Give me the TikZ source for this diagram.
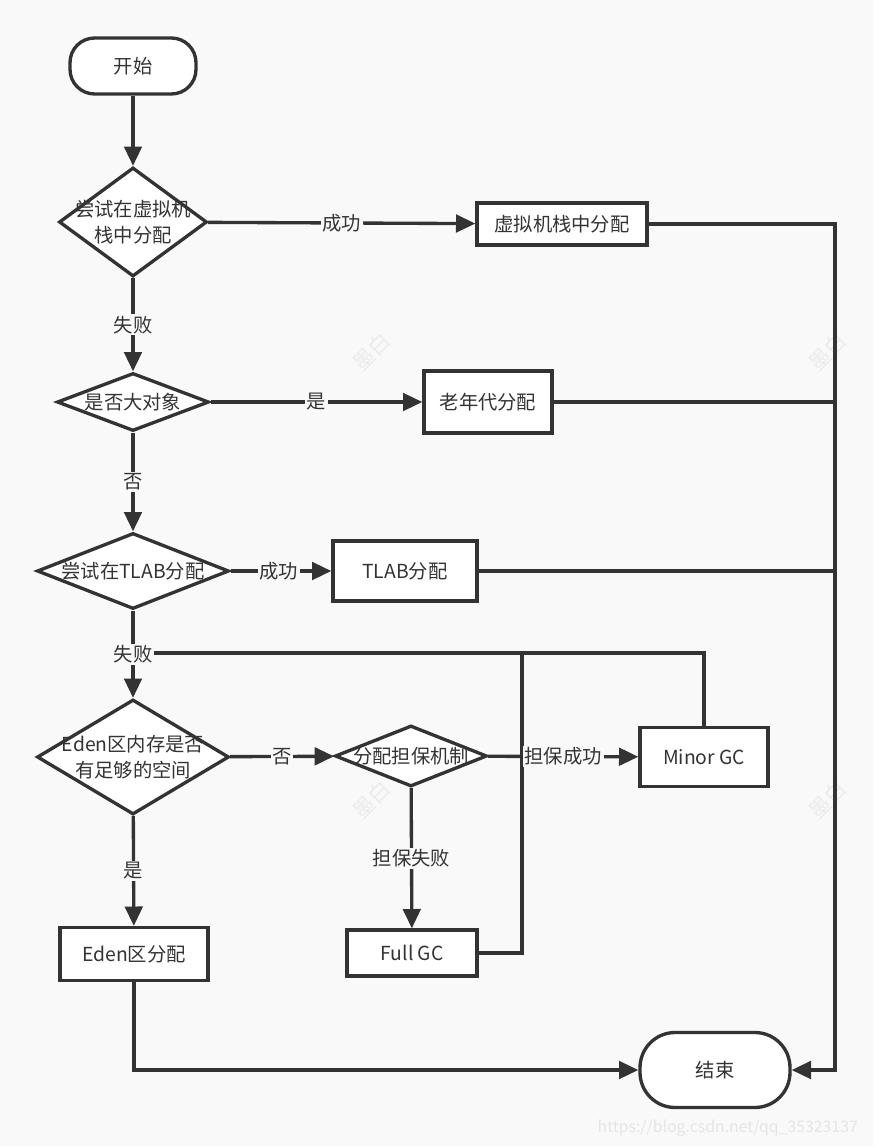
\documentclass[tikz,border=0pt]{standalone}
\usepackage{fontspec}
\setmainfont{Noto Sans CJK SC}
\usepackage{tikz}
\usetikzlibrary{shapes.geometric}
\usetikzlibrary{arrows.meta}
\definecolor{ink}{HTML}{333333}
\definecolor{paper}{HTML}{F9F9F9}
\tikzset{
  flow/.style={draw=ink,line width=1.9pt,fill=white,inner sep=0pt},
  term/.style={flow,rounded corners=14pt},
  proc/.style={flow,rectangle},
  cond/.style={flow,diamond},
  arr/.style={draw=ink,line width=1.9pt,-{Triangle[length=11pt,width=10pt]}},
  wire/.style={draw=ink,line width=1.9pt},
  lbl/.style={fill=paper,inner sep=1pt,text=ink},
  wm/.style={text=black!8,rotate=45,font=\fontsize{12}{12}\selectfont}
}
\begin{document}
\begin{tikzpicture}[x=0.02cm,y=-0.02cm,font=\fontsize{11}{15}\selectfont,text=ink]
  \fill[paper] (0,0) rectangle (873,1146);
  \useasboundingbox (0,0) rectangle (873,1146);
  % watermarks
  \node[wm] (wm1) at (372,352) {墨白};
  \node[wm] (wm2) at (828,352) {墨白};
  \node[wm] (wm3) at (372,800) {墨白};
  \node[wm] (wm4) at (828,800) {墨白};
  \node[text=black!10,anchor=east,font=\fontsize{9}{11}\selectfont] (url) at (864,1128) {https://blog.csdn.net/qq\_35323137};
  % nodes
  \node[term,minimum width=126*0.02cm,minimum height=56*0.02cm] (start) at (133,66) {开始};
  \node[cond,minimum width=148*0.02cm,minimum height=109*0.02cm,label={[align=center]center:尝试在虚拟机\\栈中分配}] (stack) at (133,222) {};
  \node[proc,minimum width=170*0.02cm,minimum height=42*0.02cm] (stackalloc) at (562,224) {虚拟机栈中分配};
  \node[cond,minimum width=152*0.02cm,minimum height=58*0.02cm,label={center:是否大对象}] (big) at (133,402) {};
  \node[proc,minimum width=128*0.02cm,minimum height=62*0.02cm] (old) at (488,402) {老年代分配};
  \node[cond,minimum width=192*0.02cm,minimum height=76*0.02cm,label={center:尝试在TLAB分配}] (tlab) at (133,571) {};
  \node[proc,minimum width=144*0.02cm,minimum height=60*0.02cm] (tlaballoc) at (405,571) {TLAB分配};
  \node[cond,minimum width=192*0.02cm,minimum height=115*0.02cm,label={[align=center]center:Eden区内存是否\\有足够的空间}] (eden) at (133,757) {};
  \node[cond,minimum width=152*0.02cm,minimum height=61*0.02cm,label={center:分配担保机制}] (guard) at (411,756) {};
  \node[proc,minimum width=128*0.02cm,minimum height=59*0.02cm] (minor) at (704,757) {Minor GC};
  \node[proc,minimum width=130*0.02cm,minimum height=46*0.02cm] (full) at (412,953) {Full GC};
  \node[proc,minimum width=148*0.02cm,minimum height=53*0.02cm] (edenalloc) at (134,954) {Eden区分配};
  \node[term,minimum width=150*0.02cm,minimum height=75*0.02cm,rounded corners=20pt] (end) at (715,1070) {结束};
  \coordinate (bus) at (835,224);
  \coordinate (back) at (133,653);
  \coordinate (fullup) at (522,953);
  % feedback lines
  \draw[wire] (minor.north) |- (back);
  \draw[wire] (full.east) -- (fullup) -- (fullup |- back);
  \draw[wire] (old.east) -- (old.east -| bus);
  \draw[wire] (tlaballoc.east) -- (tlaballoc.east -| bus);
  \draw[arr] (stackalloc.east) -- (bus) |- (end.east);
  \draw[arr] (edenalloc.south) |- (end.west);
  % main flow
  \draw[arr] (start) -- (stack);
  \draw[arr] (stack) -- node[lbl] {成功} (stackalloc);
  \draw[arr] (stack) -- node[lbl] {失败} (big);
  \draw[arr] (big) -- node[lbl] {是} (old);
  \draw[arr] (big) -- node[lbl] {否} (tlab);
  \draw[arr] (tlab) -- node[lbl,pos=0.48] {成功} (tlaballoc);
  \draw[arr] (tlab) -- node[lbl] {失败} (eden);
  \draw[arr] (eden) -- node[lbl] {否} (guard);
  \draw[arr] (guard) -- node[lbl,pos=0.5] {担保成功} (minor);
  \draw[arr] (guard) -- node[lbl] {担保失败} (full);
  \draw[arr] (eden) -- node[lbl] {是} (edenalloc);
\end{tikzpicture}
\end{document}
